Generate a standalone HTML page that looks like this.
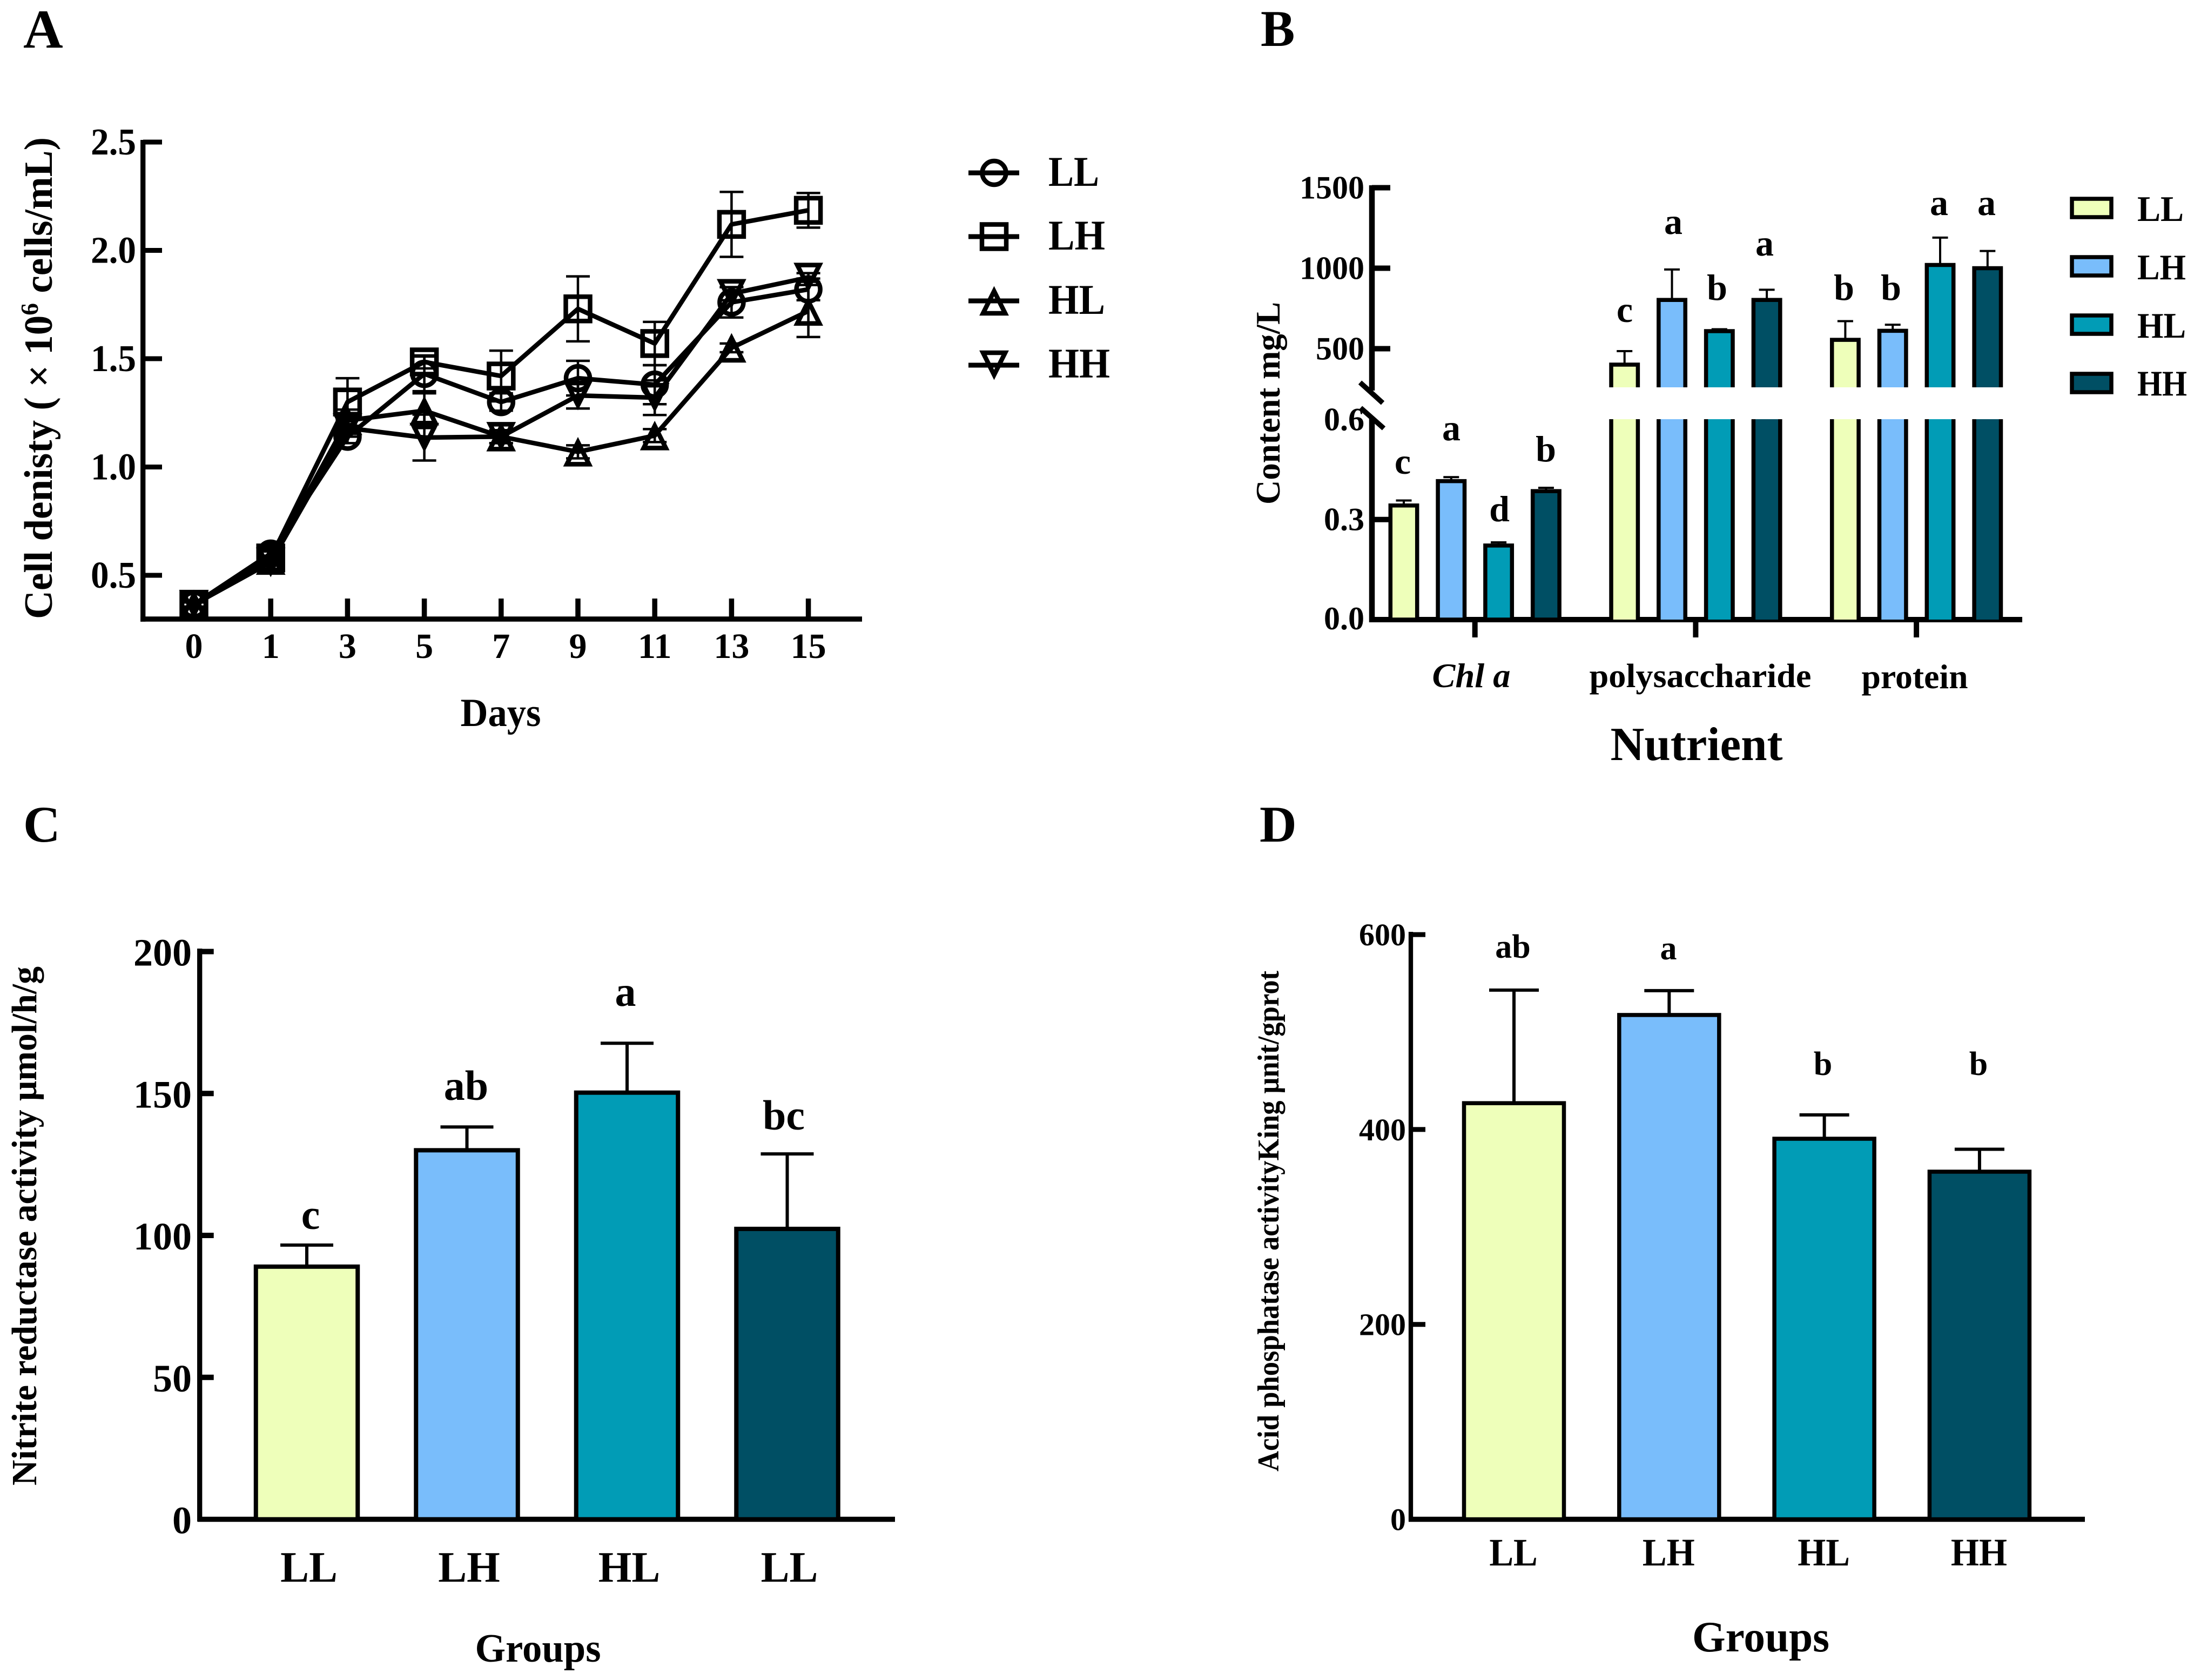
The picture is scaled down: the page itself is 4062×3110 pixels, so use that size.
<!DOCTYPE html>
<html lang="en"><head><meta charset="utf-8"><title>Four panel nutrient chart</title>
<style>
html,body{margin:0;padding:0;background:#fff;}
svg{display:block;}
text{font-family:"Liberation Serif",serif;font-weight:bold;fill:#000;}
</style></head><body>
<svg id="fig" xmlns="http://www.w3.org/2000/svg" width="4062" height="3110" viewBox="0 0 4062 3110">
<rect width="4062" height="3110" fill="#fff"/>
<g id="panelA">
<text x="43" y="88" font-size="102">A</text>
<text transform="translate(96,1146) rotate(-90)" font-size="74" textLength="892" lengthAdjust="spacingAndGlyphs">Cell denisty ( × 10<tspan dy="-26" font-size="46">6</tspan><tspan dy="26"> cells/mL)</tspan></text>
<text x="927" y="1344" font-size="74" text-anchor="middle" textLength="149" lengthAdjust="spacingAndGlyphs">Days</text>
<text x="1941" y="344" font-size="78" textLength="94" lengthAdjust="spacingAndGlyphs">LL</text>
<text x="1941" y="462" font-size="78" textLength="105" lengthAdjust="spacingAndGlyphs">LH</text>
<text x="1941" y="581" font-size="78" textLength="105" lengthAdjust="spacingAndGlyphs">HL</text>
<text x="1941" y="699" font-size="78" textLength="114" lengthAdjust="spacingAndGlyphs">HH</text>
</g>
<g id="panelB">
<text x="2334" y="85" font-size="95">B</text>
<text transform="translate(2369,934) rotate(-90)" font-size="64" textLength="375" lengthAdjust="spacingAndGlyphs">Content mg/L</text>
<text x="2724" y="1272" font-size="64" text-anchor="middle" font-style="italic" textLength="145" lengthAdjust="spacingAndGlyphs">Chl a</text>
<text x="3148" y="1272" font-size="62" text-anchor="middle" textLength="411" lengthAdjust="spacingAndGlyphs">polysaccharide</text>
<text x="3545" y="1274" font-size="64" text-anchor="middle" textLength="197" lengthAdjust="spacingAndGlyphs">protein</text>
<text x="3141" y="1407" font-size="88" text-anchor="middle" textLength="319" lengthAdjust="spacingAndGlyphs">Nutrient</text>
<text x="3957" y="409" font-size="67" textLength="86" lengthAdjust="spacingAndGlyphs">LL</text>
<text x="3957" y="517" font-size="67" textLength="90" lengthAdjust="spacingAndGlyphs">LH</text>
<text x="3957" y="625" font-size="67" textLength="90" lengthAdjust="spacingAndGlyphs">HL</text>
<text x="3957" y="732" font-size="67" textLength="92" lengthAdjust="spacingAndGlyphs">HH</text>
<g font-size="68" text-anchor="middle">
<text x="2597" y="877">c</text>
<text x="2687" y="815">a</text>
<text x="2776" y="965">d</text>
<text x="2862" y="854">b</text>
<text x="3008" y="596">c</text>
<text x="3098" y="433">a</text>
<text x="3179" y="555">b</text>
<text x="3267" y="473">a</text>
<text x="3414" y="555">b</text>
<text x="3501" y="555">b</text>
<text x="3590" y="398">a</text>
<text x="3678" y="398">a</text>
</g>
</g>
<g id="panelC">
<text x="43" y="1558" font-size="95">C</text>
<text transform="translate(67,2750) rotate(-90)" font-size="66" textLength="961" lengthAdjust="spacingAndGlyphs">Nitrite reductase activity μmol/h/g</text>
<text x="996" y="3076" font-size="74" text-anchor="middle" textLength="233" lengthAdjust="spacingAndGlyphs">Groups</text>
<g font-size="78" text-anchor="middle">
<text x="575" y="2275">c</text>
<text x="863" y="2036">ab</text>
<text x="1158" y="1862">a</text>
<text x="1451" y="2091">bc</text>
</g>
</g>
<g id="panelD">
<text x="2332" y="1558" font-size="95">D</text>
<text transform="translate(2367,2724) rotate(-90)" font-size="56" textLength="927" lengthAdjust="spacingAndGlyphs">Acid phosphatase activityKing μnit/gprot</text>
<text x="3260" y="3057" font-size="80" text-anchor="middle" textLength="254" lengthAdjust="spacingAndGlyphs">Groups</text>
<g font-size="62" text-anchor="middle">
<text x="2801" y="1773">ab</text>
<text x="3089" y="1776">a</text>
<text x="3375" y="1990">b</text>
<text x="3663" y="1990">b</text>
</g>
</g>
</svg>
<script>
// Panel A data
const aDays = ['0','1','3','5','7','9','11','13','15'];
const aTicks = ['0.5','1.0','1.5','2.0','2.5'];
const aSeriesNames = ['LL','LH','HL','HH'];
const aLL = [0.365,0.60,1.14,1.43,1.30,1.41,1.38,1.76,1.82];
const aLH = [0.365,0.58,1.30,1.485,1.42,1.73,1.57,2.12,2.185];
const aHL = [0.365,0.57,1.215,1.26,1.14,1.07,1.145,1.55,1.72];
const aHH = [0.365,0.56,1.18,1.136,1.14,1.33,1.32,1.80,1.875];
const aLLErr = [0.01,0.03,0.03,0.08,0.04,0.08,0.09,0.07,0.05];
const aLHErr = [0.01,0.03,0.11,0.03,0.117,0.15,0.10,0.15,0.08];
const aHLErr = [0.01,0.02,0.05,0.08,0.03,0.03,0.03,0.02,0.12];
const aHHErr = [0.01,0.03,0.04,0.106,0.03,0.06,0.08,0.03,0.02];
// Panel B data
const bCategories = ['Chl a','polysaccharide','protein'];
const bGroups = ['LL','LH','HL','HH'];
const bChl = [0.342,0.415,0.222,0.385];
const bChlErr = [0.015,0.012,0.0095,0.010];
const bPoly = [401,803,609,803];
const bPolyErr = [84,189,12,63];
const bProtein = [555,611,1020,1000];
const bProteinErr = [116,38,170,107];
const bUpperTicks = ['500','1000','1500'];
const bLowerTicks = ['0.0','0.3','0.6'];
// Panel C data
const cGroups = ['LL','LH','HL','LL'];
const cValues = [89,130,150.3,102.3];
const cErrors = [7.6,8.2,17.4,26.4];
const cTicks = ['0','50','100','150','200'];
// Panel D data
const dGroups = ['LL','LH','HL','HH'];
const dValues = [427,517.5,390.5,356.7];
const dErrors = [116,25,24.5,23];
const dTicks = ['0','200','400','600'];

const barColors = {LL:'#eeffba',LH:'#79bdfb',HL:'#019cb6',HH:'#004f64'};
const NS = 'http://www.w3.org/2000/svg';
function make(parent, tag, props, text){
  const el = document.createElementNS(NS, tag);
  for (const k in props) el.setAttribute(k, props[k]);
  if (text !== undefined) el.textContent = text;
  parent.appendChild(el);
  return el;
}
function segment(parent, x1, y1, x2, y2, w){
  return make(parent,'line',{x1:x1,y1:y1,x2:x2,y2:y2,stroke:'#000','stroke-width':w,fill:'none'});
}
function squeeze(el, ratio){
  const w = el.getComputedTextLength();
  el.setAttribute('textLength', w*ratio);
  el.setAttribute('lengthAdjust','spacingAndGlyphs');
}
function marker(parent, kind, cx, cy){
  const st = {fill:'none',stroke:'#000','stroke-width':8.5,'stroke-linejoin':'miter'};
  if (kind==='LL') return make(parent,'circle',Object.assign({cx:cx,cy:cy,r:22},st));
  if (kind==='LH') return make(parent,'rect',Object.assign({x:cx-22.5,y:cy-22.5,width:45,height:45},st));
  if (kind==='HL') return make(parent,'path',Object.assign({d:`M${cx} ${cy-18}L${cx+20.5} ${cy+23}L${cx-20.5} ${cy+23}Z`},st));
  return make(parent,'path',Object.assign({d:`M${cx} ${cy+18}L${cx+20.5} ${cy-23}L${cx-20.5} ${cy-23}Z`},st));
}

/* ---------- Panel A ---------- */
const pA = document.getElementById('panelA');
const xA = i => 359 + 142.2*i;
const yA = v => 1065 - (v-0.5)*401;
const axA = make(pA,'g',{});


segment(axA,264.7,259,264.7,1150.7,9.3);
segment(axA,260,1146,1596,1146,9.5);
aTicks.forEach(t=>{
  const v = parseFloat(t);
  const tick = segment(axA,265,yA(v),300,yA(v),9);
  
  
  const lab = make(axA,'text',{x:252,y:yA(v)+23,'font-size':70,'text-anchor':'end'},t);
  
  
  squeeze(lab,0.96);
});
aDays.forEach((d,i)=>{
  const tick = segment(axA,xA(i),1108,xA(i),1146,9.5);
  
  
  const lab = make(axA,'text',{x:xA(i),y:1218,'font-size':66,'text-anchor':'middle'},d);
  
  
});
const aVals = {LL:aLL,LH:aLH,HL:aHL,HH:aHH};
const aErrs = {LL:aLLErr,LH:aLHErr,HL:aHLErr,HH:aHHErr};
aSeriesNames.forEach(name=>{
  const g = make(pA,'g',{});
  
  
  const vals = aVals[name], errs = aErrs[name];
  const pts = vals.map((v,i)=>xA(i)+','+yA(v)).join(' ');
  const line = make(g,'polyline',{points:pts,fill:'none',stroke:'#000','stroke-width':8.5,'stroke-linejoin':'round'});
  
  
  vals.forEach((v,i)=>{
    const eg = make(g,'g',{});
    
    
    const top = yA(v+errs[i]), bot = yA(v-errs[i]), x = xA(i);
    segment(eg,x,top,x,bot,4.5);
    segment(eg,x-22,top,x+22,top,4.5);
    segment(eg,x-22,bot,x+22,bot,4.5);
    const m = marker(g,name,x,yA(v));
    
    
  });
});
const legendARows = [320,438,557,676];
aSeriesNames.forEach((name,i)=>{
  const g = make(pA,'g',{});
  
  
  segment(g,1793,legendARows[i],1887,legendARows[i],9);
  marker(g,name,1840.5,legendARows[i]);
});

/* ---------- Panel B ---------- */
const pB = document.getElementById('panelB');
const BASEB = 1147, GAP_TOP = 717, GAP_BOT = 776;
const yB = v => v<=0.6 ? BASEB - v*617.7 : 645.5 - (v-500)*0.298;
const xB = (g,s) => 2730.7 + 408.7*g + (s-1.5)*87.8;
const axB = make(pB,'g',{});


bUpperTicks.forEach(t=>{
  const v = parseFloat(t);
  const tick = segment(axB,2540,yB(v),2574,yB(v),10);
  
  
  const lab = make(axB,'text',{x:2526,y:yB(v)+20,'font-size':60,'text-anchor':'end'},t);
  
  
});
bLowerTicks.forEach(t=>{
  const v = parseFloat(t);
  if (v>0 && v<0.6){
    const tick = segment(axB,2540,yB(v),2572,yB(v),10);
    
    
  }
  const lab = make(axB,'text',{x:2526,y:yB(v)+(v===0?18:20),'font-size':60,'text-anchor':'end'},t);
  
  
});
const bSets = [[bChl,bChlErr],[bPoly,bPolyErr],[bProtein,bProteinErr]];
bSets.forEach((set,g)=>{
  set[0].forEach((v,s)=>{
    const bar = make(pB,'g',{});
    
    
    const x = xB(g,s), hw = 24.7, fill = barColors[bGroups[s]], topV = yB(v), topE = yB(v+set[1][s]);
    segment(bar,x,topV,x,topE,4);
    segment(bar,x-14.5,topE,x+14.5,topE,4);
    if (v<=0.6){
      make(bar,'rect',{x:x-hw,y:topV,width:hw*2,height:BASEB-topV,fill:fill,stroke:'#000','stroke-width':7.5});
    } else {
      make(bar,'rect',{x:x-hw,y:topV,width:hw*2,height:GAP_TOP-topV,fill:fill});
      make(bar,'path',{d:`M${x-hw} ${GAP_TOP}V${topV}H${x+hw}V${GAP_TOP}`,fill:'none',stroke:'#000','stroke-width':7.5});
      make(bar,'rect',{x:x-hw,y:GAP_BOT,width:hw*2,height:BASEB-GAP_BOT,fill:fill});
      make(bar,'path',{d:`M${x-hw} ${GAP_BOT}V${BASEB}M${x+hw} ${GAP_BOT}V${BASEB}`,fill:'none',stroke:'#000','stroke-width':7.5});
    }
  });
  const tx = 2730.7 + 408.7*g;
  const tick = segment(axB,tx,BASEB,tx,1180,10);
  
  
});
segment(axB,2540,343,2540,723,10.5);
segment(axB,2540,773,2540,1152,10.5);
segment(axB,2535,BASEB,3744,BASEB,10);
const brk1 = segment(axB,2518,708,2560,746,9.5);


const brk2 = segment(axB,2519,755,2562,793,9.5);


const legendBRows = [385,493,601,709];
bGroups.forEach((name,i)=>{
  const sw = make(pB,'rect',{x:3836,y:legendBRows[i]-17,width:73,height:34,fill:barColors[name],stroke:'#000','stroke-width':7.5});
  
  
});

/* ---------- Panels C and D ---------- */
function barPanel(parent, cfg){
  const y = v => cfg.base - v*cfg.scale;
  const ax = make(parent,'g',{});
  
  
  cfg.values.forEach((v,i)=>{
    const x = cfg.x0 + cfg.step*i, top = y(v), et = y(v+cfg.errors[i]);
    const g = make(parent,'g',{});
    
    
    segment(g,x,top,x,et,cfg.errW);
    segment(g,x-cfg.cap,et,x+cfg.cap,et,cfg.errW);
    make(g,'rect',{x:x-cfg.barW/2,y:top,width:cfg.barW,height:cfg.base-top,fill:cfg.colors[i],stroke:'#000','stroke-width':cfg.stroke});
    const lab = make(parent,'text',{x:x+cfg.labelShift,y:cfg.labelY,'font-size':cfg.labelSize,'text-anchor':'middle'},cfg.groups[i]);
    
    
    squeeze(lab,cfg.labelSqueeze);
  });
  segment(ax,cfg.axisX,cfg.axisTop,cfg.axisX,cfg.base+4,cfg.axisW);
  segment(ax,cfg.axisX-4,cfg.base,cfg.axisEnd,cfg.base,9.6);
  cfg.ticks.forEach(t=>{
    const v = parseFloat(t);
    if (v>0){
      const tick = segment(ax,cfg.axisX,y(v),cfg.axisX+cfg.tickLen,y(v),cfg.tickW);
      
      
    }
    const lab = make(ax,'text',{x:cfg.tickRight,y:y(v)+cfg.tickDy,'font-size':cfg.tickSize,'text-anchor':'end'},t);
    
    
  });
}
barPanel(document.getElementById('panelC'),{id:'c',values:cValues,errors:cErrors,groups:cGroups,ticks:cTicks,
  colors:[barColors.LL,barColors.LH,barColors.HL,barColors.HH],
  base:2812.5,scale:5.255,x0:568,step:296.5,barW:188.5,stroke:8,errW:6,cap:49,
  axisX:369.7,axisW:9.3,axisTop:1756,axisEnd:1657,tickLen:26,tickW:10,tickRight:355,tickDy:26,tickSize:72,
  labelY:2928,labelSize:80,labelShift:4,labelSqueeze:0.99});
barPanel(document.getElementById('panelD'),{id:'d',values:dValues,errors:dErrors,groups:dGroups,ticks:dTicks,
  colors:[barColors.LL,barColors.LH,barColors.HL,barColors.HH],
  base:2812.5,scale:1.804,x0:2803,step:287.3,barW:185,stroke:7.5,errW:6,cap:46,
  axisX:2612,axisW:8.3,axisTop:1725,axisEnd:3860,tickLen:27,tickW:9,tickRight:2603,tickDy:20,tickSize:58,
  labelY:2898,labelSize:72,labelShift:-1,labelSqueeze:0.93});
</script>
</body></html>
